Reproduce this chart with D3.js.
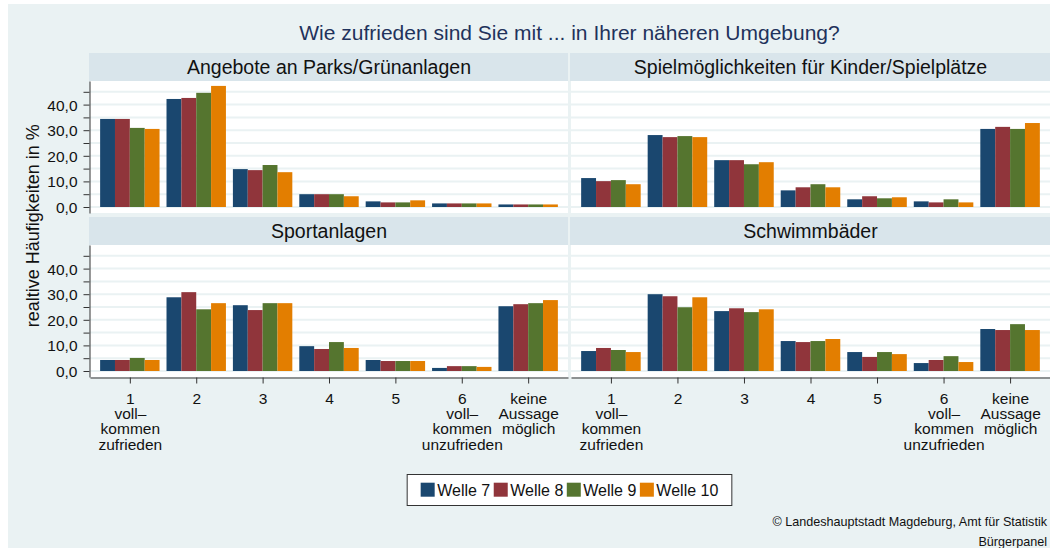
<!DOCTYPE html>
<html>
<head>
<meta charset="utf-8">
<script src="https://cdn.jsdelivr.net/npm/d3@7"></script>
<style>
  body { margin: 0; background: #fff; }
  svg text { font-family: "Liberation Sans", Arial, sans-serif; fill: #111; }
</style>
</head>
<body>
<svg id="chart" width="1050" height="548"></svg>
<script>
// categories (answer scale) and their multi-line tick labels
var categories = ["1", "2", "3", "4", "5", "6", "keine"];
var tickLabels = [
  ["1", "voll\u2013", "kommen", "zufrieden"],
  ["2"], ["3"], ["4"], ["5"],
  ["6", "voll\u2013", "kommen", "unzufrieden"],
  ["keine", "Aussage", "möglich"]
];
var waves = ["Welle 7", "Welle 8", "Welle 9", "Welle 10"];
var panelTitles = [
  "Angebote an Parks/Grünanlagen",
  "Spielmöglichkeiten für Kinder/Spielplätze",
  "Sportanlagen",
  "Schwimmbäder"
];

// values per category: [Welle 7, Welle 8, Welle 9, Welle 10]
var parks = [
  [34.4, 34.4, 30.9, 30.5],
  [42.2, 42.6, 44.6, 47.3],
  [14.8, 14.4, 16.4, 13.6],
  [5.0, 5.0, 5.0, 4.2],
  [2.2, 1.8, 1.8, 2.6],
  [1.4, 1.4, 1.4, 1.4],
  [1.0, 1.0, 1.0, 1.0]
];
var spiel = [
  [11.3, 10.1, 10.5, 8.9],
  [28.1, 27.3, 27.7, 27.3],
  [18.3, 18.3, 16.7, 17.5],
  [6.5, 7.7, 8.9, 7.7],
  [3.0, 4.2, 3.4, 3.8],
  [2.2, 1.8, 3.0, 1.8],
  [30.5, 31.3, 30.5, 32.8]
];
var sport = [
  [4.3, 4.3, 5.1, 4.3],
  [28.8, 30.8, 24.1, 26.5],
  [25.7, 23.8, 26.5, 26.5],
  [9.7, 8.6, 11.3, 9.0],
  [4.3, 3.9, 3.9, 3.9],
  [1.2, 1.9, 1.9, 1.6],
  [25.3, 26.1, 26.5, 27.7]
];
var schwimm = [
  [7.8, 9.0, 8.2, 7.4],
  [30.0, 29.2, 24.9, 28.8],
  [23.4, 24.5, 23.0, 24.1],
  [11.7, 11.3, 11.7, 12.5],
  [7.4, 5.5, 7.4, 6.6],
  [3.1, 4.3, 5.8, 3.5],
  [16.4, 16.0, 18.3, 16.0]
];
var yMajor = [0, 10, 20, 30, 40];
var yMinor = [5, 15, 25, 35, 45];
var yGrid = [0, 5, 10, 15, 20, 25, 30, 35, 40, 45];

var colors = ["#1a476f", "#90353b", "#55752f", "#e37e00"];

var svg = d3.select("#chart");

// background
svg.append("rect").attr("x", 8).attr("y", 4).attr("width", 1042).attr("height", 544)
  .attr("fill", "#eaf2f3");

// layout
var cols = [[90, 568], [571, 1050]];
var rows = [81, 245];        // plot tops
var plotH = 132, headH = 28;
var pxPerUnit = 2.56;

var panels = [
  {title: panelTitles[0], data: parks,   col: 0, row: 0},
  {title: panelTitles[1], data: spiel,   col: 1, row: 0},
  {title: panelTitles[2], data: sport,   col: 0, row: 1},
  {title: panelTitles[3], data: schwimm, col: 1, row: 1}
];

var fmt = function(d) { return d3.format(".1f")(d).replace(".", ","); };

panels.forEach(function(p) {
  var x0 = cols[p.col][0], x1 = cols[p.col][1];
  var top = rows[p.row], bottom = top + plotH;

  var y = d3.scaleLinear()
    .domain([-6 / pxPerUnit, (plotH - 6) / pxPerUnit])
    .range([bottom, top]);

  var x = d3.scalePoint().domain(categories).range([x0, x1]).padding(0.6);
  var groupW = x.step() * 0.895;
  var xs = d3.scaleBand().domain(waves).range([-groupW / 2, groupW / 2]);

  var g = svg.append("g");

  // header strip
  g.append("rect").attr("x", x0 - 1).attr("y", top - headH)
    .attr("width", x1 - x0 + 1).attr("height", headH).attr("fill", "#d9e5eb");
  g.append("text").attr("x", (x0 + x1) / 2).attr("y", top - 7)
    .attr("text-anchor", "middle").style("font-size", "19.5px").text(p.title);

  // plot area
  g.append("rect").attr("x", x0).attr("y", top)
    .attr("width", x1 - x0).attr("height", plotH).attr("fill", "#fff");

  g.selectAll(".grid").data(yGrid).enter().append("line")
    .attr("x1", x0).attr("x2", x1)
    .attr("y1", function(d) { return y(d); }).attr("y2", function(d) { return y(d); })
    .attr("stroke", "#eaf2f3").attr("stroke-width", 2);

  // bars
  var groups = g.selectAll(".grp").data(p.data).enter().append("g")
    .attr("transform", function(d, i) { return "translate(" + x(categories[i]) + ",0)"; });
  groups.selectAll("rect").data(function(d) { return d; }).enter().append("rect")
    .attr("x", function(d, j) { return xs(waves[j]); })
    .attr("width", xs.bandwidth())
    .attr("y", function(d) { return y(d); })
    .attr("height", function(d) { return y(0) - y(d); })
    .attr("fill", function(d, j) { return colors[j]; });

  // y axis on the left column
  if (p.col === 0) {
    var ya = g.append("g").attr("transform", "translate(" + (x0 - 0.5) + ",0)")
      .call(d3.axisLeft(y).tickValues(yMajor).tickFormat(fmt).tickSize(6).tickSizeOuter(0));
    g.append("g").attr("transform", "translate(" + (x0 - 0.5) + ",0)")
      .call(d3.axisLeft(y).tickValues(yMinor).tickFormat("").tickSize(6).tickSizeOuter(0))
      .select(".domain").remove();
    g.selectAll(".tick line").attr("stroke", "#333");
    g.selectAll(".domain").attr("stroke", "#333");
    ya.selectAll(".tick text").attr("x", -12).attr("dy", "0.36em")
      .style("font-size", "15.5px").style("font-family", "Liberation Sans, Arial, sans-serif")
      .attr("fill", "#111");
  }

  // x axis on the bottom row
  if (p.row === 1) {
    var xa = g.append("g").attr("transform", "translate(0," + (bottom + 0.5) + ")")
      .call(d3.axisBottom(x).tickSize(6).tickSizeOuter(0).tickFormat(""));
    xa.selectAll("line, path").attr("stroke", "#333");
    xa.selectAll(".tick").each(function(d, i) {
      var t = d3.select(this).append("text").attr("text-anchor", "middle")
        .attr("y", 26).style("font-size", "15.5px")
        .style("font-family", "Liberation Sans, Arial, sans-serif").attr("fill", "#111");
      tickLabels[i].forEach(function(s, k) {
        t.append("tspan").attr("x", 0).attr("dy", k === 0 ? 0 : 15.4).text(s);
      });
    });
  }
});

// title
svg.append("text").attr("x", 569.5).attr("y", 39.5).attr("text-anchor", "middle")
  .style("font-size", "21px").style("fill", "#1f325c")
  .text("Wie zufrieden sind Sie mit ... in Ihrer näheren Umgebung?");

// y axis title
svg.append("text").attr("transform", "translate(38.5,225.7) rotate(-90)")
  .attr("text-anchor", "middle").style("font-size", "18px")
  .text("realtive Häufigkeiten in %");

// legend
var leg = svg.append("g");
var box = leg.append("rect").attr("y", 474.5).attr("height", 31)
  .attr("fill", "#fff").attr("stroke", "#333").attr("stroke-width", 1);
var cx = 0;
var items = [];
waves.forEach(function(w, i) {
  var it = leg.append("g");
  it.append("rect").attr("x", 0).attr("y", 482.7).attr("width", 14).attr("height", 14)
    .attr("fill", colors[i]);
  var t = it.append("text").attr("x", 16.5).attr("y", 496.2).style("font-size", "16px").text(w);
  var w2 = 16.5 + t.node().getComputedTextLength();
  items.push({g: it, x: cx});
  cx += w2 + 3.5;
});
var legW = cx - 3.5;
var legX = 569.5 - legW / 2;
items.forEach(function(it) { it.g.attr("transform", "translate(" + (legX + it.x) + ",0)"); });
box.attr("x", legX - 13.5).attr("width", legW + 27);

// source note
svg.append("text").attr("x", 1047).attr("y", 526).attr("text-anchor", "end")
  .style("font-size", "12.6px")
  .text("© Landeshauptstadt Magdeburg, Amt für Statistik");
svg.append("text").attr("x", 1047).attr("y", 545.5).attr("text-anchor", "end")
  .style("font-size", "12.6px")
  .text("Bürgerpanel");
</script>
</body>
</html>
